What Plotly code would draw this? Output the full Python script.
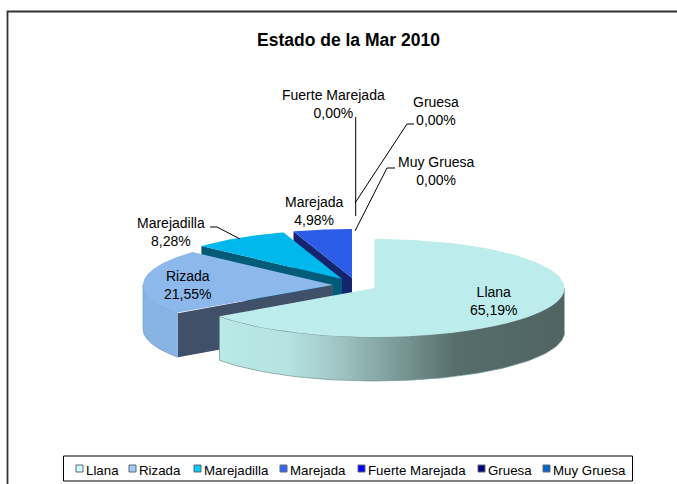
import numpy as np
import plotly.graph_objects as go

categories = ["Llana", "Rizada", "Marejadilla", "Marejada", "Fuerte Marejada", "Gruesa", "Muy Gruesa"]
values = [65.19, 21.55, 8.28, 4.98, 0.00, 0.00, 0.00]
title_text = "Estado de la Mar 2010"

top_colors = ["#BCECEB", "#8CB8EC", "#00B8EC", "#2C5CE8", "#0000FF", "#000080", "#0066CC"]
side_colors = ["#506563", "#3F5068", "#005C78", "#14246E", "#000080", "#000040", "#003366"]
swatch_colors = ["#CCFFFF", "#99CCFF", "#00CCFF", "#3366FF", "#0000FF", "#000080", "#0066CC"]

# layout constants (pixels of the 677x484 page)
W, H = 677, 484
RX, RY, DEPTH = 190, 49, 44
centers = [(374.5, 288), (333, 285), (342, 279), (352, 278), (352, 278), (352, 278), (352, 278)]
label_pos = [(493, 301), (187, 285), (171, 232), (314, 211), (333, 104), (436, 111), (436, 171)]
legend_swatch_x = [76, 129, 194, 280, 358, 478, 543]
FONT = "Liberation Sans"

fig = go.Figure()


def arc(c, a0, a1, n=80):
    t = np.radians(np.linspace(a0, a1, n))
    return c[0] + RX * np.sin(t), c[1] - RY * np.cos(t)


def poly(x, y, **kw):
    fig.add_trace(go.Scatter(x=list(x), y=list(y), mode="lines", fill="toself",
                             hoverinfo="skip", showlegend=False, **kw))


edges = np.concatenate([[0], np.cumsum(values) / sum(values) * 360])
NOLINE = dict(width=0)

# painter's order: back slices first, Llana last
for i in reversed(range(len(categories))):
    if values[i] <= 0:
        continue
    c, a0, a1 = centers[i], edges[i], edges[i + 1]
    # straight cut face at the start of the slice
    if i > 0:
        ex, ey = arc(c, a0, a0, 1)
        poly([c[0], ex[0], ex[0], c[0]], [c[1], ey[0], ey[0] + DEPTH, c[1] + DEPTH],
             fillcolor=side_colors[i], line=NOLINE)
    # curved outer wall, only where it faces the viewer
    w0, w1 = max(a0, 90), min(a1, 270)
    if w1 > w0:
        ax, ay = arc(c, w0, w1)
        wx = np.concatenate([ax, ax[::-1]])
        wy = np.concatenate([ay, ay[::-1] + DEPTH])
        if i == 0:
            poly(wx, wy, line=dict(width=0.7, color="#71908E"),
                 fillgradient=dict(type="horizontal", colorscale=[
                     [0, "#B9E9E7"], [0.2, "#B4E3E1"], [0.35, "#9FC4C2"],
                     [0.5, "#7D9E9C"], [0.69, "#566D6B"], [1, "#506563"]]))
        else:
            poly(wx, wy, fillcolor="#88B4E4", line=dict(width=0.6, color="#6A90BB"))
    # top surface
    ax, ay = arc(c, a0, a1, 120)
    poly(np.concatenate([[c[0]], ax]), np.concatenate([[c[1]], ay]),
         fillcolor=top_colors[i], line=NOLINE)

annotations = []


def text(x, y, s, size=14, anchor="center", bold=False):
    annotations.append(dict(x=x, y=y, xref="x", yref="y", text=f"<b>{s}</b>" if bold else s,
                            showarrow=False, xanchor=anchor, yanchor="middle", align="center",
                            borderpad=0, borderwidth=0,
                            font=dict(family=FONT, size=size, color="#000000")))


text(348, 40, title_text, size=17.5, bold=True)
for name, v, (x, y) in zip(categories, values, label_pos):
    text(x, y, f"{name}<br>{v:.2f}%".replace(".", ","), size=14)

shapes = []


def line_path(pts, width=1.0, color="#000000"):
    d = "M " + " L ".join(f"{x},{y}" for x, y in pts)
    shapes.append(dict(type="path", path=d, xref="x", yref="y", line=dict(color=color, width=width)))


# chart frame (runs off the right and bottom of the picture)
line_path([(7.5, 490), (7.5, 11.5), (690, 11.5)], width=1.8, color="#333333")
# leader lines
line_path([(355.7, 117), (355.7, 216)])
line_path([(414, 124), (407, 124), (355, 203)])
line_path([(395, 168), (387, 168), (355, 231)])
line_path([(210, 227), (217, 227), (240, 239)])
# legend box
shapes.append(dict(type="rect", x0=63.5, x1=632.5, y0=456, y1=481, xref="x", yref="y",
                   line=dict(color="#000000", width=1), fillcolor="#FFFFFF"))
for name, col, x in zip(categories, swatch_colors, legend_swatch_x):
    shapes.append(dict(type="rect", x0=x, x1=x + 7, y0=465, y1=472, xref="x", yref="y",
                       line=dict(color="#666666", width=1), fillcolor=col))
    text(x + 10, 470, name, size=13.3, anchor="left")

fig.update_layout(
    width=W, height=H, autosize=False,
    margin=dict(l=0, r=0, t=0, b=0, pad=0),
    paper_bgcolor="#FFFFFF", plot_bgcolor="#FFFFFF",
    showlegend=False, shapes=shapes, annotations=annotations,
    xaxis=dict(range=[0, W], visible=False, fixedrange=True),
    yaxis=dict(range=[H, 0], visible=False, fixedrange=True),
)
fig.write_html("out.html", config={"displayModeBar": False},
               post_script="document.body.style.margin='0';document.body.style.overflow='hidden';")
